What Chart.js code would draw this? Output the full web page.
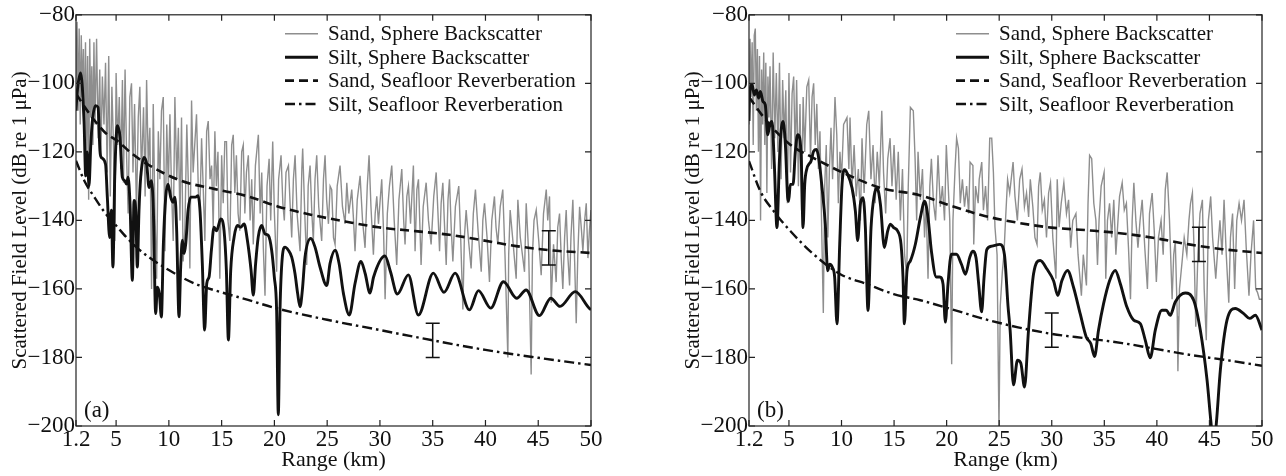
<!DOCTYPE html>
<html>
<head>
<meta charset="utf-8">
<script src="https://cdn.jsdelivr.net/npm/chart.js@4.4.1/dist/chart.umd.min.js"></script>
<style>
  html, body { margin: 0; padding: 0; background: #fff; }
  body { width: 1286px; height: 476px; position: relative; overflow: hidden; }
  .panel { position: absolute; top: 0; height: 476px; }
  #wrapA { left: 0; width: 640px; }
  #wrapB { left: 673px; width: 613px; }
</style>
</head>
<body>
<div class="panel" id="wrapA"><canvas id="chartA"></canvas></div>
<div class="panel" id="wrapB"><canvas id="chartB"></canvas></div>
<script>
const FONT = "'Liberation Serif', 'Times New Roman', serif";

// axes
const xTicks = [1.2, 5, 10, 15, 20, 25, 30, 35, 40, 45, 50];
const yTicks = [-80, -100, -120, -140, -160, -180, -200];
const xTitle = 'Range (km)';
const yTitle = 'Scattered Field Level (dB re 1 \u03bcPa)';
const seriesLabels = ['Sand, Sphere Backscatter', 'Silt, Sphere Backscatter',
                      'Sand, Seafloor Reverberation', 'Silt, Seafloor Reverberation'];

// panel (a)  [km, dB]
const sandSphereA = [[1.2,-100],[1.3,-82],[1.4,-108],[1.5,-84],[1.6,-112],[1.7,-86],[1.8,-104],[1.9,-90],[2.0,-115],[2.1,-88],[2.2,-120],[2.3,-92],[2.4,-134],[2.5,-87],[2.6,-110],[2.7,-95],[2.8,-118],[2.9,-88],[3.0,-112],[3.15,-87],[3.3,-116],[3.45,-96],[3.55,-122],[3.7,-98],[3.85,-112],[4.0,-94],[4.15,-126],[4.3,-92],[4.45,-133],[4.6,-101],[4.75,-118],[4.88,-146],[5.0,-97],[5.15,-118],[5.3,-104],[5.45,-125],[5.6,-99],[5.7,-129],[5.85,-96],[6.0,-122],[6.14,-138],[6.3,-104],[6.46,-100],[6.6,-126],[6.75,-106],[6.93,-138],[7.1,-110],[7.25,-101],[7.4,-127],[7.6,-107],[7.75,-133],[7.89,-99],[8.05,-124],[8.2,-113],[8.36,-160],[8.52,-106],[8.68,-138],[8.84,-157],[9.0,-114],[9.15,-128],[9.3,-108],[9.47,-104],[9.63,-149],[9.8,-112],[9.95,-130],[10.1,-109],[10.25,-131],[10.41,-146],[10.57,-104],[10.75,-128],[10.9,-113],[11.05,-140],[11.2,-110],[11.35,-152],[11.52,-142],[11.7,-112],[11.85,-130],[11.99,-154],[12.15,-105],[12.3,-126],[12.45,-118],[12.62,-109],[12.8,-132],[12.94,-137],[13.1,-116],[13.25,-130],[13.41,-146],[13.58,-114],[13.73,-111],[13.9,-128],[14.05,-124],[14.2,-142],[14.36,-114],[14.5,-130],[14.65,-120],[14.83,-157],[15.0,-121],[15.15,-135],[15.3,-117],[15.46,-117],[15.6,-140],[15.78,-146],[15.95,-118],[16.1,-115],[16.25,-132],[16.4,-121],[16.56,-138],[16.72,-143],[16.9,-120],[17.05,-118],[17.2,-138],[17.35,-126],[17.53,-121],[17.7,-140],[17.85,-128],[18.0,-147],[18.2,-124],[18.48,-115],[18.65,-138],[18.8,-126],[18.95,-148],[19.11,-162],[19.3,-130],[19.5,-122],[19.65,-140],[19.84,-117],[20.0,-138],[20.21,-155],[20.4,-128],[20.63,-121],[20.8,-135],[20.94,-140],[21.1,-126],[21.33,-124],[21.5,-136],[21.64,-145],[21.8,-128],[21.96,-121],[22.15,-138],[22.43,-149],[22.6,-125],[22.68,-119],[22.9,-140],[23.06,-153],[23.2,-130],[23.38,-124],[23.55,-138],[23.69,-146],[23.85,-128],[24.01,-121],[24.2,-136],[24.48,-146],[24.65,-128],[24.8,-121],[24.95,-134],[25.12,-141],[25.28,-130],[25.43,-131],[25.6,-145],[25.75,-147],[25.95,-130],[26.22,-124],[26.45,-136],[26.7,-141],[26.86,-129],[27.05,-138],[27.33,-131],[27.5,-140],[27.64,-149],[27.85,-134],[28.12,-127],[28.35,-140],[28.59,-148],[28.8,-130],[28.97,-121],[29.15,-136],[29.38,-150],[29.55,-138],[29.7,-133],[29.86,-141],[30.0,-135],[30.17,-128],[30.35,-144],[30.49,-163],[30.7,-138],[30.9,-130],[31.12,-124],[31.35,-140],[31.59,-153],[31.8,-134],[32.07,-125],[32.25,-140],[32.38,-147],[32.55,-133],[32.7,-130],[32.9,-141],[33.17,-124],[33.33,-149],[33.5,-131],[33.65,-128],[33.9,-153],[34.1,-136],[34.38,-129],[34.6,-140],[34.85,-147],[35.1,-133],[35.33,-126],[35.5,-138],[35.65,-149],[35.8,-135],[35.96,-129],[36.1,-140],[36.28,-153],[36.45,-134],[36.59,-128],[36.75,-142],[36.91,-152],[37.15,-136],[37.47,-130],[37.65,-145],[37.86,-166],[38.0,-145],[38.17,-137],[38.4,-146],[38.64,-154],[38.85,-138],[39.05,-131],[39.3,-143],[39.6,-155],[39.75,-140],[39.91,-135],[40.15,-145],[40.38,-158],[40.6,-140],[40.85,-133],[41.0,-142],[41.17,-147],[41.4,-136],[41.64,-131],[41.85,-150],[42.12,-180],[42.2,-150],[42.34,-137],[42.6,-146],[42.91,-157],[43.07,-134],[43.3,-145],[43.7,-155],[43.86,-135],[44.1,-150],[44.33,-185],[44.45,-150],[44.6,-140],[44.81,-137],[45.05,-146],[45.28,-156],[45.5,-138],[45.76,-131],[45.9,-140],[46.07,-133],[46.23,-164],[46.45,-147],[46.7,-158],[46.85,-142],[47.02,-138],[47.18,-151],[47.33,-160],[47.5,-145],[47.65,-137],[47.8,-150],[47.97,-159],[48.1,-145],[48.28,-134],[48.45,-152],[48.6,-170],[48.75,-150],[48.92,-136],[49.1,-143],[49.23,-149],[49.4,-140],[49.55,-135],[49.71,-151],[49.85,-143],[50,-137]];

const siltSphereA = [[1.2,-108],[1.3,-103],[1.64,-97],[1.96,-111],[2.12,-127],[2.27,-120],[2.43,-130],[2.6,-118],[2.75,-111],[3.06,-106.5],[3.29,-107],[3.47,-119.7],[3.6,-121.6],[4.0,-123.6],[4.17,-133.3],[4.39,-145],[4.55,-137],[4.7,-153.6],[4.87,-127.4],[5.12,-112.4],[5.37,-115.8],[5.59,-127.4],[5.81,-128.4],[6.0,-129.4],[6.13,-127.4],[6.32,-135.2],[6.54,-157.5],[6.7,-134.2],[6.86,-137.1],[7.01,-153.6],[7.17,-137],[7.33,-127.4],[7.65,-121.6],[7.9,-123.6],[8.12,-130.4],[8.34,-128.4],[8.53,-137],[8.75,-167.2],[8.91,-159.5],[9.1,-161.4],[9.29,-168.2],[9.48,-146.8],[9.7,-133.2],[9.92,-129.4],[10.17,-133.2],[10.39,-134.7],[10.58,-133.2],[10.74,-143],[10.96,-168.1],[11.12,-153.6],[11.28,-145.8],[11.44,-149.7],[11.6,-146.8],[11.82,-137.1],[12.07,-133.2],[12.54,-133.2],[12.76,-132.8],[12.95,-137.1],[13.17,-152.6],[13.39,-172],[13.59,-158.4],[13.81,-156.5],[14.03,-148.7],[14.28,-142],[14.53,-143],[14.91,-139.6],[15.23,-143],[15.45,-154.6],[15.64,-174.9],[15.86,-154.6],[16.18,-144.9],[16.49,-141.5],[16.81,-142],[17.13,-141],[17.44,-145.8],[17.79,-154.6],[18.0,-161.8],[18.22,-152.6],[18.47,-144.8],[18.79,-141.5],[19.1,-143.9],[19.42,-144.4],[19.74,-148.7],[19.99,-156.5],[20.21,-166.2],[20.37,-196.7],[20.53,-166.2],[20.75,-150.7],[21.0,-147.8],[21.32,-148.7],[21.64,-150.7],[21.95,-155.5],[22.2,-161.3],[22.43,-165.2],[22.65,-160.3],[22.9,-150.7],[23.45,-145.3],[23.85,-147.8],[24.32,-153.6],[24.96,-159],[25.27,-152.6],[25.75,-148.7],[26.13,-152.6],[26.54,-161.3],[27.1,-167.6],[27.64,-158.4],[28.2,-152],[28.6,-155.5],[29.06,-161.2],[29.4,-156.5],[30.48,-150.4],[31.0,-155],[31.65,-161.5],[32.69,-155.9],[33.64,-167.6],[35.06,-155.4],[36.07,-161],[37.12,-155.4],[38.48,-166.1],[39.33,-160.5],[40.5,-165.6],[41.7,-157.9],[42.96,-162.7],[43.85,-160.3],[45.11,-167.8],[46.19,-162.7],[47.07,-165.1],[48.5,-160.8],[49.92,-165.9],[50,-166]];

const sandReverbA = [[1.2,-103],[2.27,-108],[3,-111],[4,-114.5],[5.12,-116.8],[6.5,-120.5],[7.96,-123.6],[11.12,-128.4],[14.28,-130.8],[17.5,-133],[20.38,-136],[23.54,-138.4],[26.7,-140.3],[29.85,-142],[33.6,-143.2],[36.59,-144.2],[39.75,-145.8],[42.91,-147.5],[46.07,-148.7],[50,-149.5]];
const siltReverbA = [[1.2,-122.6],[2,-128.5],[3,-133.5],[4,-138],[5,-141.5],[6,-145],[7,-148],[8,-150.5],[10,-154.5],[12.5,-158.5],[15,-161],[17.5,-163.2],[20,-165.5],[25,-169],[30,-172],[35,-175],[40,-177.8],[45,-180.1],[50,-182.2]];
// [km, low dB, high dB]
const errBarsA = [[46, -153, -143], [35, -180, -170]];

// panel (b)
const sandSphereB = [[1.2,-112],[1.3,-87],[1.4,-104],[1.5,-88],[1.6,-118],[1.7,-86],[1.8,-84],[1.9,-108],[2.0,-90],[2.1,-120],[2.2,-92],[2.3,-140],[2.4,-96],[2.5,-112],[2.6,-91],[2.7,-118],[2.8,-94],[2.9,-132],[3.0,-98],[3.1,-110],[3.2,-95],[3.35,-125],[3.5,-91],[3.65,-116],[3.8,-97],[3.95,-120],[4.1,-94],[4.25,-128],[4.4,-99],[4.55,-116],[4.7,-102],[4.85,-135],[5.0,-97],[5.15,-126],[5.3,-103],[5.45,-98],[5.6,-122],[5.73,-99],[5.9,-130],[6.05,-106],[6.2,-137],[6.35,-104],[6.5,-120],[6.7,-101],[6.88,-99],[7.05,-122],[7.2,-104],[7.35,-100],[7.5,-118],[7.65,-106],[7.8,-125],[7.95,-114],[8.1,-140],[8.27,-167],[8.4,-130],[8.55,-118],[8.7,-145],[8.85,-125],[9.0,-113],[9.15,-128],[9.38,-104],[9.55,-115],[9.7,-135],[9.85,-120],[10.0,-128],[10.2,-112],[10.52,-110],[10.7,-125],[10.81,-110],[11.0,-130],[11.2,-118],[11.4,-133],[11.6,-125],[11.8,-140],[11.95,-116],[12.15,-132],[12.4,-112],[12.59,-108],[12.8,-128],[13.0,-118],[13.2,-135],[13.4,-120],[13.6,-130],[13.83,-108],[14.0,-126],[14.2,-138],[14.4,-122],[14.62,-116],[14.8,-130],[15.0,-118],[15.2,-134],[15.4,-120],[15.6,-140],[15.8,-125],[16.0,-150],[16.2,-156],[16.35,-130],[16.55,-107],[16.83,-108],[17.0,-122],[17.15,-140],[17.28,-120],[17.5,-134],[17.7,-125],[17.9,-145],[18.05,-135],[18.23,-157],[18.4,-130],[18.55,-122],[18.75,-135],[18.95,-140],[19.18,-121],[19.4,-136],[19.6,-130],[19.8,-140],[19.97,-118],[20.15,-130],[20.3,-140],[20.48,-182],[20.6,-140],[20.8,-125],[20.95,-116],[21.12,-119],[21.3,-135],[21.5,-128],[21.7,-136],[21.9,-130],[22.1,-138],[22.23,-123],[22.5,-124],[22.58,-147],[22.75,-130],[23.0,-135],[23.1,-128],[23.34,-123],[23.5,-137],[23.7,-130],[23.9,-140],[24.1,-116],[24.29,-116],[24.45,-126],[24.6,-142],[24.8,-150],[24.98,-201],[25.1,-165],[25.3,-155],[25.45,-150],[25.6,-140],[25.8,-128],[26.0,-132],[26.32,-123],[26.5,-133],[26.73,-140],[26.95,-128],[27.17,-125],[27.4,-136],[27.6,-132],[27.8,-139],[27.96,-128],[28.2,-136],[28.4,-145],[28.6,-147],[28.75,-130],[28.91,-126],[29.1,-137],[29.3,-134],[29.5,-145],[29.7,-132],[29.88,-129],[30.1,-145],[30.4,-157],[30.52,-128],[30.7,-142],[30.9,-135],[31.15,-129],[31.4,-138],[31.6,-134],[31.8,-148],[32.0,-140],[32.3,-138],[32.5,-150],[32.82,-162],[33.0,-150],[33.3,-159],[33.45,-135],[33.6,-121],[33.8,-122],[34.0,-135],[34.2,-140],[34.35,-153],[34.5,-140],[34.7,-130],[34.98,-126],[35.14,-157],[35.3,-140],[35.5,-135],[35.7,-145],[35.9,-134],[36.1,-150],[36.3,-140],[36.45,-133],[36.7,-129],[36.9,-137],[37.1,-135],[37.3,-148],[37.49,-163],[37.65,-140],[37.81,-129],[38.0,-140],[38.2,-148],[38.4,-140],[38.6,-134],[38.85,-148],[39.1,-160],[39.3,-138],[39.55,-132],[39.75,-143],[39.95,-158],[40.15,-145],[40.4,-140],[40.6,-150],[40.8,-131],[40.98,-126],[41.2,-140],[41.45,-163],[41.6,-150],[41.75,-146],[41.94,-168],[42.0,-184],[42.15,-160],[42.4,-152],[42.6,-145],[42.85,-150],[43.05,-140],[43.2,-135],[43.38,-132],[43.55,-150],[43.7,-171],[43.9,-150],[44.1,-138],[44.33,-134],[44.5,-160],[44.7,-175],[44.9,-140],[45.12,-133],[45.3,-145],[45.6,-157],[45.8,-148],[46.0,-140],[46.2,-150],[46.39,-134],[46.6,-150],[46.84,-164],[47.0,-145],[47.2,-138],[47.4,-160],[47.6,-140],[47.82,-135],[48.05,-140],[48.29,-134],[48.5,-148],[48.76,-162],[48.95,-150],[49.2,-140],[49.4,-160],[49.57,-161],[49.75,-163],[50,-163]];

const siltSphereB = [[1.2,-111],[1.26,-103.4],[1.49,-100.4],[1.71,-103.4],[1.9,-101.9],[2.12,-104.3],[2.28,-102.4],[2.53,-105.3],[2.75,-106.3],[2.98,-115],[3.17,-112.1],[3.39,-111.1],[3.61,-123.7],[3.86,-142.1],[4.09,-122.7],[4.28,-113],[4.44,-111.1],[4.66,-117.9],[4.88,-133.4],[4.97,-134.4],[5.13,-129.5],[5.39,-129.5],[5.61,-119.8],[5.83,-115],[6.02,-115.9],[6.18,-122.7],[6.34,-142.1],[6.5,-129.5],[6.72,-124.7],[6.88,-123.7],[7.1,-122.7],[7.35,-119.8],[7.61,-119.3],[7.83,-121.8],[8.15,-130.5],[8.46,-141.1],[8.68,-154.7],[8.88,-152.8],[9.13,-153.7],[9.35,-156.6],[9.57,-170.2],[9.83,-146.8],[10.05,-129.5],[10.3,-125.2],[10.52,-126.1],[11.0,-130.5],[11.32,-137.3],[11.54,-145.9],[11.79,-135.3],[12.05,-133.4],[12.27,-142.1],[12.52,-166.3],[12.81,-142.1],[13.13,-132.4],[13.38,-130.5],[13.7,-135.3],[14.08,-147.9],[14.39,-143.1],[14.65,-141.1],[14.96,-142.1],[15.34,-143.1],[15.66,-146.9],[15.85,-156.6],[15.98,-170.2],[16.23,-154.7],[16.55,-151.8],[17.03,-146.9],[17.5,-139.2],[17.91,-134.4],[18.23,-139.2],[18.55,-148.9],[19.02,-156.5],[19.34,-156.5],[19.66,-158.6],[19.88,-169.7],[20.13,-158.6],[20.45,-149.9],[20.93,-149.9],[21.41,-152.8],[21.79,-155.7],[22.2,-150.8],[22.47,-149],[22.8,-151],[23.05,-158.6],[23.33,-166.7],[23.56,-156.6],[23.82,-148.5],[24.3,-147.5],[25.07,-147],[25.5,-150],[25.84,-165],[26.04,-172],[26.36,-188],[26.74,-180.8],[27.06,-181.7],[27.41,-188.6],[27.79,-172],[28.27,-155.6],[28.9,-151.7],[29.54,-154.2],[30.17,-157.6],[30.58,-161.9],[30.96,-157.6],[31.5,-154.6],[32.07,-159.5],[32.71,-167.3],[33.28,-174],[33.72,-176],[34.07,-179.7],[34.45,-172],[34.93,-164.3],[35.5,-157.6],[36.04,-154.6],[36.52,-158.5],[37.15,-165.3],[37.79,-169.1],[38.42,-170.1],[38.9,-175],[39.37,-180.1],[39.85,-172],[40.48,-166.2],[40.89,-166.2],[41.27,-167.7],[41.75,-163.8],[42.7,-161.2],[43.5,-163.3],[44.13,-172],[44.77,-186.5],[45.15,-199.1],[45.4,-206],[45.66,-199.1],[46.04,-183.6],[46.67,-169.1],[47.46,-165.7],[48.26,-167.2],[48.83,-168.6],[49.37,-167.7],[50,-172]];

const sandReverbB = [[1.2,-104],[2.91,-111.1],[5.13,-117.9],[7.35,-121.8],[10.52,-126.6],[13.7,-130.5],[17.5,-132.7],[20.45,-135.8],[23.62,-138.7],[26.79,-140.7],[29.96,-142.1],[33.5,-142.9],[36.7,-143.8],[39.88,-145.2],[43.05,-147],[46.23,-148.4],[50,-149.5]];
const siltReverbB = [[1.2,-122.7],[2.28,-131.5],[3.55,-137.3],[5.13,-143.1],[7.35,-149.9],[9.89,-155.7],[12.43,-158.6],[14.96,-161.5],[17.5,-163.3],[20.45,-165.9],[23.62,-168.8],[26.79,-171.2],[29.96,-173.1],[33.5,-174.5],[36.7,-175.8],[39.88,-177.5],[43.05,-179.2],[46.23,-180.6],[50,-182.4]];
const errBarsB = [[44, -152, -142], [30, -177, -167]];

function toPoints(pairs) {
    return pairs.map(p => ({ x: p[0], y: p[1] }));
}

const minus = v => String(v).replace('-', '\u2212');

// frame, inward ticks, error bars, legend and panel tag
const panelDecor = {
    id: 'panelDecor',
    afterDatasetsDraw(chart, args, opts) {
        const ctx = chart.ctx;
        const a = chart.chartArea;
        const xs = chart.scales.x, ys = chart.scales.y;
        ctx.save();

        // error bars
        ctx.strokeStyle = '#111';
        ctx.lineWidth = 1.5;
        ctx.setLineDash([]);
        opts.errBars.forEach(e => {
            const px = xs.getPixelForValue(e[0]);
            const yLo = ys.getPixelForValue(e[1]);
            const yHi = ys.getPixelForValue(e[2]);
            ctx.beginPath();
            ctx.moveTo(px, yLo); ctx.lineTo(px, yHi);
            ctx.moveTo(px - 7, yLo); ctx.lineTo(px + 7, yLo);
            ctx.moveTo(px - 7, yHi); ctx.lineTo(px + 7, yHi);
            ctx.stroke();
        });

        // box and inward ticks
        ctx.strokeStyle = '#222';
        ctx.lineWidth = 1.2;
        ctx.strokeRect(a.left, a.top, a.right - a.left, a.bottom - a.top);
        ctx.beginPath();
        xTicks.forEach(v => {
            const px = xs.getPixelForValue(v);
            ctx.moveTo(px, a.bottom); ctx.lineTo(px, a.bottom - 6);
            ctx.moveTo(px, a.top); ctx.lineTo(px, a.top + 6);
        });
        yTicks.forEach(v => {
            const py = ys.getPixelForValue(v);
            ctx.moveTo(a.left, py); ctx.lineTo(a.left + 6, py);
            ctx.moveTo(a.right, py); ctx.lineTo(a.right - 6, py);
        });
        ctx.stroke();

        // legend
        ctx.font = '21px ' + FONT;
        ctx.fillStyle = '#111';
        ctx.textBaseline = 'middle';
        ctx.textAlign = 'left';
        chart.data.datasets.forEach((ds, i) => {
            const y = a.top + 19 + i * 23.4;
            ctx.strokeStyle = ds.borderColor;
            ctx.lineWidth = ds.borderWidth;
            ctx.setLineDash(ds.borderDash || []);
            ctx.beginPath();
            ctx.moveTo(a.right - 306, y);
            ctx.lineTo(a.right - 273, y);
            ctx.stroke();
            ctx.fillText(ds.label, a.right - 263, y + 1);
        });
        ctx.setLineDash([]);

        // panel tag
        ctx.font = '23px ' + FONT;
        ctx.textBaseline = 'alphabetic';
        ctx.fillText(opts.tag, a.left + 8, a.bottom - 9);
        ctx.restore();
    }
};

function makePanel(canvasId, sand, silt, sandRev, siltRev, errBars, tag, padRight) {
    const ctx = document.getElementById(canvasId).getContext('2d');
    return new Chart(ctx, {
        type: 'line',
        data: {
            datasets: [
                { label: seriesLabels[0], data: toPoints(sand), borderColor: '#8e8e8e', borderWidth: 1.4,
                  tension: 0, order: 10 },
                { label: seriesLabels[1], data: toPoints(silt), borderColor: '#111', borderWidth: 2.9,
                  cubicInterpolationMode: 'monotone', order: 1 },
                { label: seriesLabels[2], data: toPoints(sandRev), borderColor: '#111', borderWidth: 2.6,
                  borderDash: [9, 5], cubicInterpolationMode: 'monotone', order: 3 },
                { label: seriesLabels[3], data: toPoints(siltRev), borderColor: '#111', borderWidth: 2.4,
                  borderDash: [10, 4, 2.5, 4], cubicInterpolationMode: 'monotone', order: 2 }
            ]
        },
        options: {
            responsive: true,
            maintainAspectRatio: false,
            animation: false,
            clip: 0,
            layout: { padding: { top: 13, right: padRight, left: 0, bottom: 0 } },
            elements: { point: { radius: 0 } },
            plugins: {
                legend: { display: false },
                tooltip: { enabled: false },
                panelDecor: { tag: tag, errBars: errBars }
            },
            scales: {
                x: {
                    type: 'linear', min: 1.2, max: 50,
                    afterBuildTicks: s => { s.ticks = xTicks.map(v => ({ value: v })); },
                    afterFit: s => { s.height = 50; },
                    grid: { display: false, drawTicks: false },
                    border: { display: false },
                    ticks: { color: '#111', font: { family: FONT, size: 23 }, padding: 0,
                             maxRotation: 0, autoSkip: false, callback: v => String(v) },
                    title: { display: true, text: xTitle, color: '#111',
                             font: { family: FONT, size: 22 }, padding: { top: 0, bottom: 3 } }
                },
                y: {
                    min: -200, max: -80,
                    afterBuildTicks: s => { s.ticks = yTicks.map(v => ({ value: v })); },
                    afterFit: s => { s.width = 76; },
                    grid: { display: false, drawTicks: false },
                    border: { display: false },
                    ticks: { color: '#111', font: { family: FONT, size: 23 }, padding: 1,
                             callback: v => minus(v) },
                    title: { display: true, text: yTitle, color: '#111',
                             font: { family: FONT, size: 21 }, padding: { top: 8, bottom: 0 } }
                }
            }
        },
        plugins: [panelDecor]
    });
}

makePanel('chartA', sandSphereA, siltSphereA, sandReverbA, siltReverbA, errBarsA, '(a)', 49);
makePanel('chartB', sandSphereB, siltSphereB, sandReverbB, siltReverbB, errBarsB, '(b)', 24);
</script>
</body>
</html>
